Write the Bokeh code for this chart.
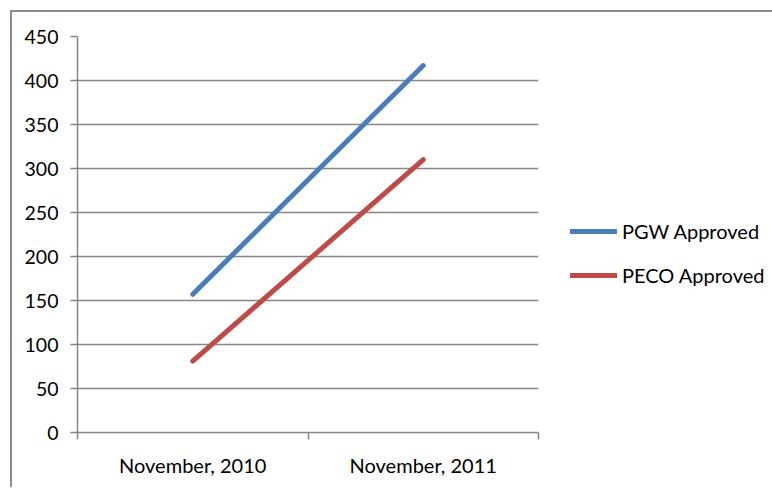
from bokeh.plotting import figure
from bokeh.models import FixedTicker, Range1d, Legend, LegendItem, ColumnDataSource
from bokeh.embed import file_html
from bokeh.resources import INLINE

categories = ["November, 2010", "November, 2011"]
pgw_approved = [157, 417]
peco_approved = [81, 310]
y_ticks = [0, 50, 100, 150, 200, 250, 300, 350, 400, 450]

x_pos = [i + 0.5 for i in range(len(categories))]

FONT = "Lato"
GRAY = "#868686"

p = figure(width=758, height=475, frame_width=461, frame_height=396,
           output_backend="svg", toolbar_location=None,
           x_range=Range1d(0, len(categories)), y_range=Range1d(0, 450),
           min_border_left=65, min_border_right=0, min_border_top=24, min_border_bottom=55)
p.margin = (10, 0, 0, 10)
p.styles = {"border-left": "2px solid #8c8c8c", "border-top": "2px solid #8c8c8c",
            "overflow": "hidden"}
p.outline_line_color = None
p.background_fill_color = "white"
p.border_fill_color = "white"

src = ColumnDataSource(dict(x=x_pos, pgw=pgw_approved, peco=peco_approved))
r1 = p.line("x", "pgw", source=src, line_color="#4a7ebb", line_width=5, line_cap="round")
r2 = p.line("x", "peco", source=src, line_color="#be4b48", line_width=5, line_cap="round")

# y axis
p.yaxis.ticker = FixedTicker(ticks=y_ticks)
p.yaxis.axis_line_color = GRAY
p.yaxis.axis_line_width = 1.5
p.yaxis.major_tick_line_color = GRAY
p.yaxis.major_tick_line_width = 1.5
p.yaxis.major_tick_out = 7
p.yaxis.major_tick_in = 0
p.yaxis.minor_tick_line_color = None
p.yaxis.major_label_standoff = 12
p.yaxis.major_label_text_font = FONT
p.yaxis.major_label_text_font_size = "19.5px"
p.yaxis.major_label_text_color = "#000000"

# x axis
p.xaxis.ticker = FixedTicker(ticks=x_pos, minor_ticks=[0, 1, 2])
p.xaxis.major_label_overrides = {x: c for x, c in zip(x_pos, categories)}
p.xaxis.axis_line_color = GRAY
p.xaxis.axis_line_width = 1.5
p.xaxis.major_tick_line_color = None
p.xaxis.minor_tick_line_color = GRAY
p.xaxis.minor_tick_line_width = 1.5
p.xaxis.minor_tick_out = 7
p.xaxis.minor_tick_in = 0
p.xaxis.major_label_standoff = 13
p.xaxis.major_label_text_font = FONT
p.xaxis.major_label_text_font_size = "20px"
p.xaxis.major_label_text_color = "#000000"

p.xgrid.grid_line_color = None
p.ygrid.grid_line_color = GRAY
p.ygrid.grid_line_width = 1.5

legend = Legend(items=[LegendItem(label="PGW Approved", renderers=[r1]),
                       LegendItem(label="PECO Approved", renderers=[r2])],
                location=(32, 145))
legend.border_line_color = None
legend.background_fill_alpha = 0
legend.padding = 0
legend.margin = 0
legend.glyph_width = 47
legend.glyph_height = 20
legend.label_height = 20
legend.spacing = 20
legend.label_standoff = 5
legend.label_text_font = FONT
legend.label_text_font_size = "20px"
legend.label_text_color = "#000000"
p.add_layout(legend, "right")

open("out.html", "w").write(file_html(p, INLINE))
